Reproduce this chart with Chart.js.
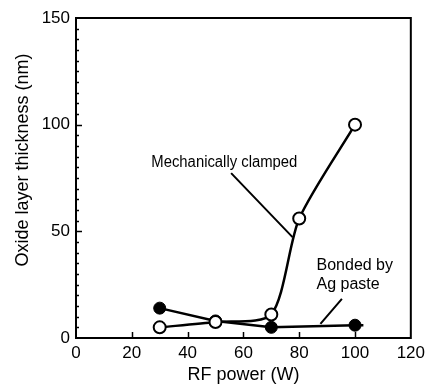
<!DOCTYPE html>
<html>
<head>
<meta charset="utf-8">
<script src="https://cdn.jsdelivr.net/npm/chart.js@4/dist/chart.umd.min.js"></script>
<style>
  html, body { margin: 0; padding: 0; background: #fff; }
  #wrap { width: 430px; height: 390px; }
</style>
</head>
<body>
<div id="wrap"><canvas id="chart" width="430" height="390"></canvas></div>
<script>
const powerClamped = [30, 50, 70, 80, 100]
const thicknessClamped = [5, 7.5, 11, 56, 100]
const powerAg = [30, 50, 70, 100, 103]
const thicknessAg = [14, 8, 5, 6, 6]
const agRadius = [6, 6, 6, 6, 0]

const xTicks = [0, 20, 40, 60, 80, 100, 120]
const yTicks = [0, 50, 100, 150]

const labelClamped = 'Mechanically clamped'
const labelAg = ['Bonded by', 'Ag paste']
const yTitle = 'Oxide layer thickness (nm)'

const FONT = 'Liberation Sans, Arial, Helvetica, sans-serif'

// frame, inward ticks, y title and the leader-line labels
const decorations = {
  id: 'decorations',
  afterDatasetsDraw (chart) {
    const { ctx, chartArea: a, scales: { x, y } } = chart
    ctx.save()
    ctx.strokeStyle = '#000'

    // ticks
    ctx.lineWidth = 1.5
    for (let v = 5; v < 150; v += 5) {
      const py = Math.round(y.getPixelForValue(v)) + 0.5
      const len = v % 50 === 0 ? 6 : 3
      ctx.beginPath()
      ctx.moveTo(a.left, py)
      ctx.lineTo(a.left + len, py)
      ctx.stroke()
    }
    xTicks.slice(1, -1).forEach(v => {
      const px = Math.round(x.getPixelForValue(v)) + 0.5
      ctx.beginPath()
      ctx.moveTo(px, a.bottom)
      ctx.lineTo(px, a.bottom - 6)
      ctx.stroke()
    })

    // frame
    ctx.lineWidth = 2
    ctx.beginPath()
    ctx.moveTo(a.left, a.top)
    ctx.lineTo(a.right, a.top)
    ctx.lineTo(a.right, a.bottom)
    ctx.lineTo(a.left, a.bottom)
    ctx.closePath()
    ctx.stroke()

    ctx.fillStyle = '#000'

    // y title
    ctx.save()
    ctx.translate(28, 160)
    ctx.rotate(-Math.PI / 2)
    ctx.font = '18px ' + FONT
    ctx.textAlign = 'center'
    ctx.textBaseline = 'alphabetic'
    ctx.fillText(yTitle, 0, 0, 216)
    ctx.restore()

    // annotations
    ctx.font = '16px ' + FONT
    ctx.textBaseline = 'alphabetic'
    ctx.textAlign = 'left'
    ctx.fillText(labelClamped, x.getPixelForValue(27), y.getPixelForValue(80), 146)
    ctx.fillText(labelAg[0], x.getPixelForValue(86.2), y.getPixelForValue(31.9), 79)
    ctx.fillText(labelAg[1], x.getPixelForValue(86.2), y.getPixelForValue(23.2), 70)

    ctx.lineWidth = 2
    ctx.beginPath()
    ctx.moveTo(x.getPixelForValue(55.6), y.getPixelForValue(77.3))
    ctx.lineTo(x.getPixelForValue(77.6), y.getPixelForValue(47.3))
    ctx.moveTo(x.getPixelForValue(95.3), y.getPixelForValue(18.3))
    ctx.lineTo(x.getPixelForValue(87.6), y.getPixelForValue(6.6))
    ctx.stroke()
    ctx.restore()
  }
}

Chart.defaults.font.family = FONT
Chart.defaults.color = '#000'

// eslint-disable-next-line no-unused-vars, no-undef
const chart = new Chart(document.querySelector('#chart'), {
  type: 'line',
  data: {
    datasets: [{
      label: labelClamped,
      data: powerClamped.map((p, i) => ({ x: p, y: thicknessClamped[i] })),
      borderColor: '#000',
      borderWidth: 2.5,
      tension: 0.25,
      pointRadius: 6,
      pointBorderWidth: 2,
      pointBackgroundColor: '#fff',
      pointBorderColor: '#000',
      order: 0
    }, {
      label: labelAg.join(' '),
      data: powerAg.map((p, i) => ({ x: p, y: thicknessAg[i] })),
      borderColor: '#000',
      borderWidth: 2.5,
      tension: 0,
      pointRadius: agRadius,
      pointBorderWidth: 1,
      pointBackgroundColor: '#000',
      pointBorderColor: '#000',
      order: 1
    }]
  },
  options: {
    responsive: false,
    animation: false,
    events: [],
    layout: { padding: { top: 18, right: 17, left: 0, bottom: 0 } },
    plugins: {
      legend: { display: false },
      tooltip: { enabled: false }
    },
    scales: {
      x: {
        type: 'linear',
        min: 0,
        max: 120,
        afterBuildTicks: s => { s.ticks = xTicks.map(v => ({ value: v })) },
        grid: { display: false, drawTicks: false },
        border: { display: false },
        ticks: { font: { size: 17 }, padding: 5, maxRotation: 0 },
        title: { display: true, text: 'RF power (W)', font: { size: 18 }, padding: { top: 3 } },
        afterFit: s => { s.height = 52 }
      },
      y: {
        type: 'linear',
        min: 0,
        max: 150,
        afterBuildTicks: s => { s.ticks = yTicks.map(v => ({ value: v })) },
        grid: { display: false, drawTicks: false },
        border: { display: false },
        ticks: { font: { size: 17 }, padding: 6 },
        afterFit: s => { s.width = 76 }
      }
    }
  },
  plugins: [decorations]
})
</script>
</body>
</html>
